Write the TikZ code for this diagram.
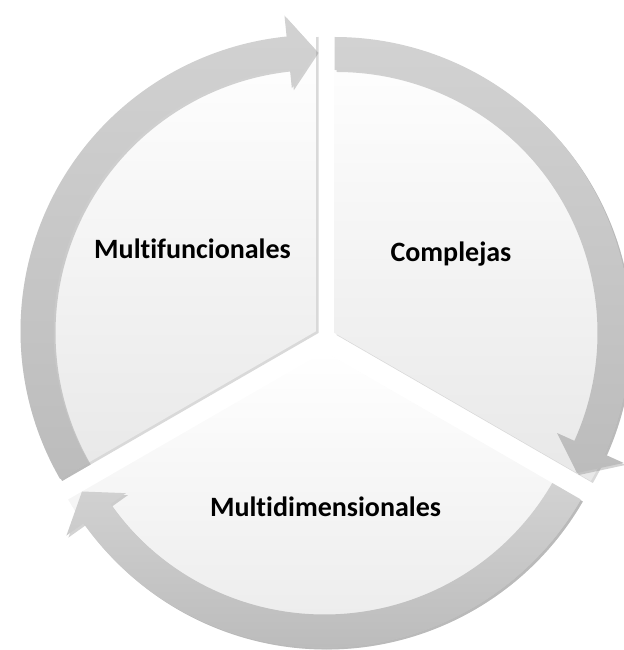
\documentclass[tikz,border=0pt]{standalone}
\usepackage{fontspec}
\setmainfont{Carlito}[Ligatures=NoCommon]
\usepackage{xcolor}
\definecolor{cycleBand}{HTML}{D2D2D2}
\definecolor{cycleBandDark}{HTML}{BCBCBC}
\definecolor{cycleFill}{HTML}{E8E8E8}
\definecolor{cycleText}{HTML}{000000}
\usetikzlibrary{shadows,positioning}
\tikzset{
    segment/.style={
        draw=none,
        top color=white,
        bottom color=cycleFill,
        drop shadow={opacity=0.3, shadow xshift=1.5pt, shadow yshift=-1.5pt}
    },
    band/.style={
        draw=none,
        top color=cycleBand,
        bottom color=cycleBandDark,
        drop shadow={opacity=0.35, shadow xshift=1.5pt, shadow yshift=-1.5pt}
    },
    segtext/.style={
        font=\bfseries\fontsize{21}{25}\selectfont,
        text=cycleText,
        anchor=base,
        inner sep=0pt
    }
}
\begin{document}
\begin{tikzpicture}[x=0.75pt, y=0.75pt]
    \useasboundingbox (0,0) rectangle (624,650);
    \clip (0,0) rectangle (624,650);

    % Segment centres
    \coordinate (leftc) at (316.5,319);
    \coordinate (rightc) at (334.5,317);
    \coordinate (bottomc) at (324.5,298.5);

    % Multifuncionales
    \begin{scope}[shift={(leftc)}]
        \path[segment] (0,0) -- (90:296) arc[start angle=90, end angle=210, radius=296] -- cycle;
        \path[band] (210:296) arc[start angle=210, end angle=95.8, radius=296]
            -- (95.8:317) -- (90:280) -- (95.8:244) -- (95.8:263)
            arc[start angle=95.8, end angle=210, radius=263] -- cycle;
    \end{scope}

    % Complejas
    \begin{scope}[shift={(rightc)}]
        \path[segment] (0,0) -- (-30:296) arc[start angle=-30, end angle=90, radius=296] -- cycle;
        \path[band] (90:296) arc[start angle=90, end angle=-24.2, radius=296]
            -- (-24.2:317) -- (-30:280) -- (-24.2:244) -- (-24.2:263)
            arc[start angle=-24.2, end angle=90, radius=263] -- cycle;
    \end{scope}

    % Multidimensionales
    \begin{scope}[shift={(bottomc)}]
        \path[segment] (0,0) -- (210:296) arc[start angle=210, end angle=330, radius=296] -- cycle;
        \path[band] (330:296) arc[start angle=330, end angle=215.5, radius=296]
            -- (215.5:317) -- (210:280) -- (215.5:244) -- (215.5:263)
            arc[start angle=215.5, end angle=330, radius=263] -- cycle;
    \end{scope}

    % Labels
    \node[segtext] (multifunc) at (192.5,391) {Multifuncionales};
    \node[segtext] (complejas) at (451,388) {Complejas};
    \node[segtext] (multidim) at (325.5,133) {Multidimensionales};
\end{tikzpicture}
\end{document}
